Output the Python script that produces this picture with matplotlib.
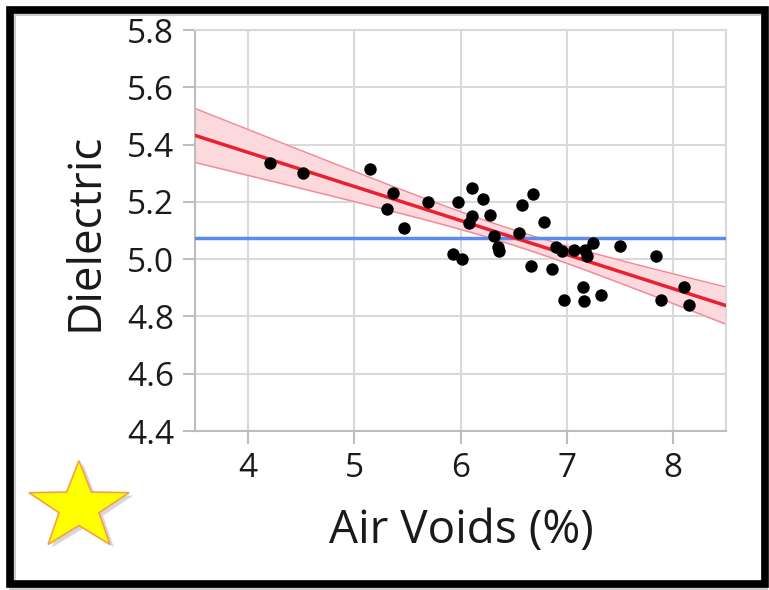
import numpy as np
import matplotlib
matplotlib.use("Agg")
import matplotlib.pyplot as plt
from matplotlib.patches import Polygon, Rectangle

plt.rcParams['font.family'] = ['Open Sans', 'DejaVu Sans']

# data
air_voids = [4.21, 4.52, 5.15, 5.36, 5.31, 5.47, 5.69,
             5.98, 6.11, 6.21, 6.11, 6.08, 6.28, 6.32, 6.35, 6.36, 5.93, 6.01,
             6.58, 6.68, 6.79, 6.55, 6.66, 6.86, 6.90, 6.96,
             7.07, 7.17, 7.19, 7.25, 7.50, 7.84, 6.97, 7.15, 7.16, 7.32,
             8.10, 7.89, 8.15]
dielectric = [5.334, 5.300, 5.315, 5.231, 5.175, 5.110, 5.199,
              5.200, 5.248, 5.210, 5.150, 5.126, 5.155, 5.082, 5.043, 5.030, 5.018, 5.000,
              5.190, 5.226, 5.130, 5.092, 4.975, 4.967, 5.043, 5.028,
              5.033, 5.033, 5.012, 5.058, 5.046, 5.012, 4.857, 4.903, 4.853, 4.876,
              4.903, 4.859, 4.839]

x_ticks = [4, 5, 6, 7, 8]
y_ticks = [4.4, 4.6, 4.8, 5.0, 5.2, 5.4, 5.6, 5.8]

x = np.array(air_voids)
y = np.array(dielectric)
n = len(x)

# linear fit + 95% confidence band of the fit
slope, intercept = np.polyfit(x, y, 1)
xx = np.linspace(3.5, 8.5, 200)
yy = intercept + slope * xx
resid = y - (intercept + slope * x)
s = np.sqrt(np.sum(resid**2) / (n - 2))
sxx = np.sum((x - x.mean())**2)
t_val = 2.026
half = t_val * s * np.sqrt(1.0 / n + (xx - x.mean())**2 / sxx)

W, H = 769, 590
fig = plt.figure(figsize=(W / 100, H / 100), dpi=100)
ax = fig.add_axes([195 / W, 1 - 431 / H, (726 - 195) / W, (431 - 30) / H])

txt = '#1a1a1a'
ax.fill_between(xx, yy - half, yy + half, color='#fbd9dd', zorder=1)
ax.plot(xx, yy - half, color='#f08a95', lw=1, zorder=2)
ax.plot(xx, yy + half, color='#f08a95', lw=1, zorder=2)
ax.axhline(y.mean(), color='#5a8cf0', lw=2.5, zorder=3)
ax.plot(xx, yy, color='#e8202f', lw=2.5, zorder=4)
ax.scatter(x, y, s=80, color='black', zorder=5, linewidths=0)

ax.set_xlim(3.5, 8.5)
ax.set_ylim(4.4, 5.8)
ax.set_xticks(x_ticks)
ax.set_yticks(y_ticks)
ax.set_yticklabels([f"{v:.1f}" for v in y_ticks])
ax.grid(True, color='#d9d9d9', lw=1.5, zorder=0)
ax.set_axisbelow(True)
for side in ['left', 'bottom', 'top', 'right']:
    ax.spines[side].set_color('#bdbdbd')
    ax.spines[side].set_linewidth(1.5)
ax.spines['top'].set_color('#d9d9d9')
ax.spines['right'].set_color('#d9d9d9')
ax.tick_params(axis='both', direction='out', length=9, width=1.5, color='#bdbdbd',
               labelsize=24, labelcolor=txt, pad=6)

fig.text(461 / W, 1 - 531 / H, "Air Voids (%)", fontsize=33, color=txt,
         ha='center', va='center')
fig.text(86 / W, 1 - 232 / H, "Dielectric", fontsize=33, color=txt,
         ha='center', va='center', rotation=90)

# overlay for the frame and the star, in pixel coords
ov = fig.add_axes([0, 0, 1, 1], zorder=10)
ov.set_xlim(0, W)
ov.set_ylim(H, 0)
ov.axis('off')
ov.patch.set_alpha(0)

ov.add_patch(Rectangle((12, 12), 752, 574, fill=False, ec='#9a9a9a', lw=5, alpha=0.5))
ov.add_patch(Rectangle((9.5, 9.5), 755, 574, fill=False, ec='black', lw=5.5))

def star(cx, cy, r_out, r_in, sy):
    pts = []
    for k in range(10):
        ang = np.pi / 2 + k * np.pi / 5
        r = r_out if k % 2 == 0 else r_in
        pts.append((cx + r * np.cos(ang), cy - r * np.sin(ang) * sy))
    return pts

ov.add_patch(Polygon(star(83, 510, 52.6, 21, 0.88), closed=True, fc='#b0b0b0',
                     ec='none', alpha=0.5))
ov.add_patch(Polygon(star(79, 507, 52.6, 21, 0.88), closed=True, fc='#ffff00',
                     ec='#f5a046', lw=1.2))

fig.savefig("out.png", dpi=100)
